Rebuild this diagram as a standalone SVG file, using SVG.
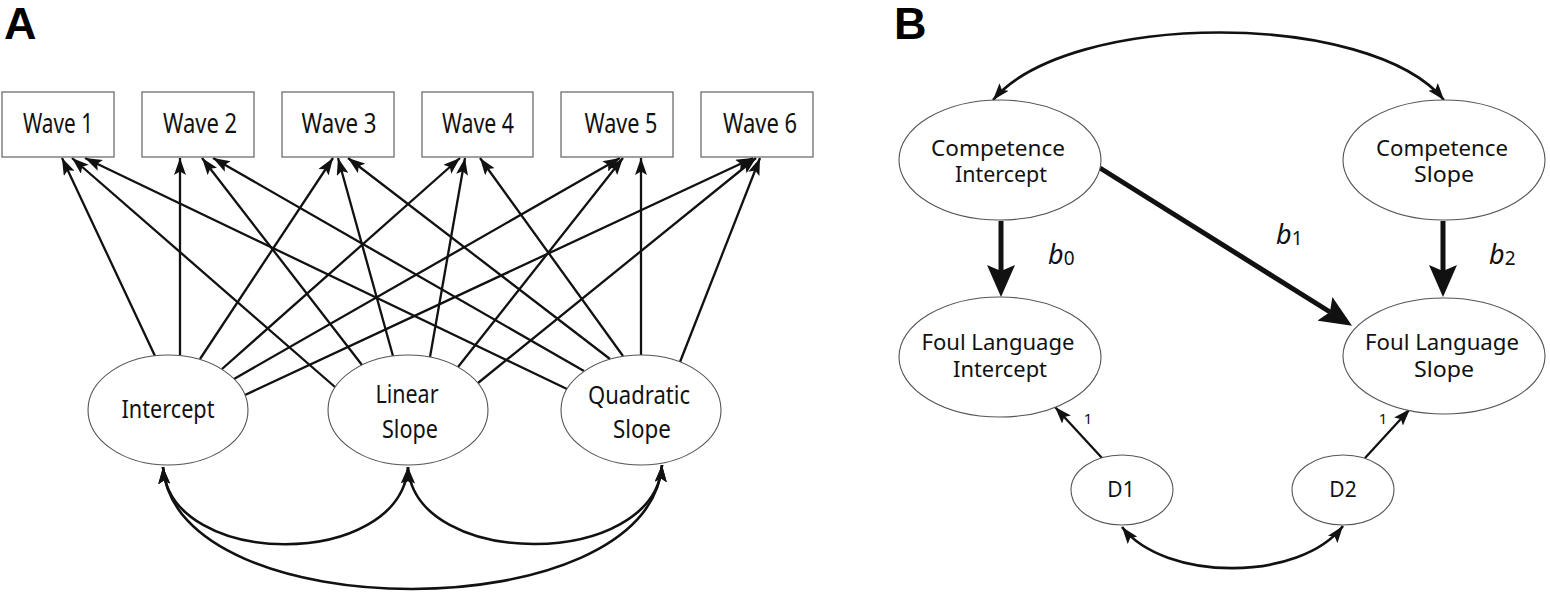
<svg xmlns="http://www.w3.org/2000/svg" width="1550" height="594" viewBox="0 0 1550 594">
<defs>
<marker id="ah" viewBox="0 0 17 12" refX="17" refY="6" markerWidth="17" markerHeight="12" markerUnits="userSpaceOnUse" orient="auto-start-reverse">
<path d="M0,0 L17,6 L0,12 L3.5,6 Z" fill="#111"/>
</marker>
<marker id="big" viewBox="0 0 32 28" refX="6" refY="14" markerWidth="32" markerHeight="28" markerUnits="userSpaceOnUse" orient="auto">
<path d="M0,0 L32,14 L0,28 L6,14 Z" fill="#111"/>
</marker>
<style>
.box{fill:#fff;stroke:#6e6e6e;stroke-width:1.3}
.ell{fill:#fff;stroke:#555;stroke-width:1.1}
.ln{stroke:#111;stroke-width:2.3;fill:none;marker-end:url(#ah)}
.cv{stroke:#111;stroke-width:2.6;fill:none;marker-start:url(#ah);marker-end:url(#ah)}
.thick{stroke:#111;stroke-width:5;fill:none;marker-end:url(#big)}
.t{font-family:"Noto Sans","DejaVu Sans",sans-serif;fill:#111;text-anchor:middle}
.wa{font-size:28px}
.ea{font-size:25px}
.eb{font-size:21px}
.lab{font-family:"Liberation Sans",Arial,sans-serif;font-weight:bold;font-size:45px;fill:#000}
.bl{font-family:"Noto Sans","DejaVu Sans",sans-serif;fill:#111;font-size:27px}
</style>
</defs>
<rect width="1550" height="594" fill="#fff"/>
<text class="lab" x="4" y="39">A</text>
<text class="lab" x="894" y="39">B</text>

<g id="connectors">
<path class="ln" d="M155,356 L62,158"/>
<path class="ln" d="M180,355 L180,158"/>
<path class="ln" d="M200,359 L333,158"/>
<path class="ln" d="M222,369 L460,158"/>
<path class="ln" d="M234,379 L620,158"/>
<path class="ln" d="M245,395 L753,158"/>
<path class="ln" d="M335,387 L72,158"/>
<path class="ln" d="M362,365 L202,158"/>
<path class="ln" d="M393,356 L338,158"/>
<path class="ln" d="M430,357 L465,158"/>
<path class="ln" d="M458,367 L623,158"/>
<path class="ln" d="M478,383 L756,158"/>
<path class="ln" d="M567,389 L85,158"/>
<path class="ln" d="M584,371 L213,158"/>
<path class="ln" d="M610,359 L348,158"/>
<path class="ln" d="M623,356 L480,158"/>
<path class="ln" d="M641,355 L641,158"/>
<path class="ln" d="M680,362 L760,158"/>
<path class="cv" d="M163,467 C170,570 400,570 408,467"/>
<path class="cv" d="M408,467 C415,570 655,570 662,465"/>
<path class="cv" d="M163,467 C175,630 650,630 662,465"/>
<path class="cv" d="M993,100 C1070,10 1370,10 1444,100"/>
<path class="thick" d="M1001,221 L1001,271"/>
<path class="thick" d="M1443,221 L1443,271"/>
<path class="thick" d="M1100,168 L1330,312"/>
<path class="ln" d="M1102,458 L1055,407"/>
<path class="ln" d="M1365,458 L1410,409"/>
<path class="cv" d="M1122,527 C1165,582 1300,582 1343,526"/>
</g>

<g id="wave1"><rect class="box" x="2" y="92" width="112" height="65"/><text class="t wa" x="58" y="133" textLength="70" lengthAdjust="spacingAndGlyphs">Wave 1</text></g>
<g id="wave2"><rect class="box" x="142" y="92" width="112" height="65"/><text class="t wa" x="200" y="133" textLength="74" lengthAdjust="spacingAndGlyphs">Wave 2</text></g>
<g id="wave3"><rect class="box" x="282" y="92" width="112" height="65"/><text class="t wa" x="339" y="133" textLength="75" lengthAdjust="spacingAndGlyphs">Wave 3</text></g>
<g id="wave4"><rect class="box" x="422" y="92" width="111" height="65"/><text class="t wa" x="478" y="133" textLength="72" lengthAdjust="spacingAndGlyphs">Wave 4</text></g>
<g id="wave5"><rect class="box" x="561" y="92" width="112" height="65"/><text class="t wa" x="621" y="133" textLength="73" lengthAdjust="spacingAndGlyphs">Wave 5</text></g>
<g id="wave6"><rect class="box" x="701" y="92" width="112" height="65"/><text class="t wa" x="760" y="133" textLength="74" lengthAdjust="spacingAndGlyphs">Wave 6</text></g>

<g id="intercept"><ellipse class="ell" cx="168" cy="410" rx="80" ry="55"/><text class="t ea" x="168" y="418" textLength="93" lengthAdjust="spacingAndGlyphs">Intercept</text></g>
<g id="linear-slope"><ellipse class="ell" cx="408" cy="410" rx="80" ry="55"/><text class="t ea" x="407" y="403" textLength="63" lengthAdjust="spacingAndGlyphs">Linear</text><text class="t ea" x="410" y="438" textLength="56" lengthAdjust="spacingAndGlyphs">Slope</text></g>
<g id="quadratic-slope"><ellipse class="ell" cx="641" cy="410" rx="80" ry="55"/><text class="t ea" x="639" y="404" textLength="102" lengthAdjust="spacingAndGlyphs">Quadratic</text><text class="t ea" x="642" y="438" textLength="58" lengthAdjust="spacingAndGlyphs">Slope</text></g>

<g id="competence-intercept"><ellipse class="ell" cx="1000" cy="160" rx="101" ry="60"/><text class="t eb" x="998" y="156" textLength="134" lengthAdjust="spacingAndGlyphs">Competence</text><text class="t eb" x="1001" y="182" textLength="92" lengthAdjust="spacingAndGlyphs">Intercept</text></g>
<g id="competence-slope"><ellipse class="ell" cx="1444" cy="160" rx="101" ry="60"/><text class="t eb" x="1442" y="156" textLength="132" lengthAdjust="spacingAndGlyphs">Competence</text><text class="t eb" x="1444" y="182" textLength="60" lengthAdjust="spacingAndGlyphs">Slope</text></g>
<g id="foul-intercept"><ellipse class="ell" cx="1000" cy="357" rx="101" ry="60"/><text class="t eb" x="998" y="350" textLength="153" lengthAdjust="spacingAndGlyphs">Foul Language</text><text class="t eb" x="1000" y="377" textLength="94" lengthAdjust="spacingAndGlyphs">Intercept</text></g>
<g id="foul-slope"><ellipse class="ell" cx="1444" cy="356" rx="101" ry="58"/><text class="t eb" x="1442" y="350" textLength="154" lengthAdjust="spacingAndGlyphs">Foul Language</text><text class="t eb" x="1444" y="377" textLength="60" lengthAdjust="spacingAndGlyphs">Slope</text></g>
<g id="d1"><ellipse class="ell" cx="1122" cy="490" rx="51" ry="35"/><text class="t" font-size="21" x="1121" y="497">D1</text></g>
<g id="d2"><ellipse class="ell" cx="1343" cy="490" rx="51" ry="35"/><text class="t" font-size="21" x="1343" y="497">D2</text></g>

<g id="labels">
<text class="bl" x="1048" y="264"><tspan font-style="italic">b</tspan><tspan font-size="19" dy="1">0</tspan></text>
<text class="bl" x="1276" y="244"><tspan font-style="italic">b</tspan><tspan font-size="19" dy="1">1</tspan></text>
<text class="bl" x="1489" y="264"><tspan font-style="italic">b</tspan><tspan font-size="19" dy="1">2</tspan></text>
<text class="t" font-size="15" x="1088" y="424">1</text>
<text class="t" font-size="15" x="1383" y="424">1</text>
</g>
</svg>
